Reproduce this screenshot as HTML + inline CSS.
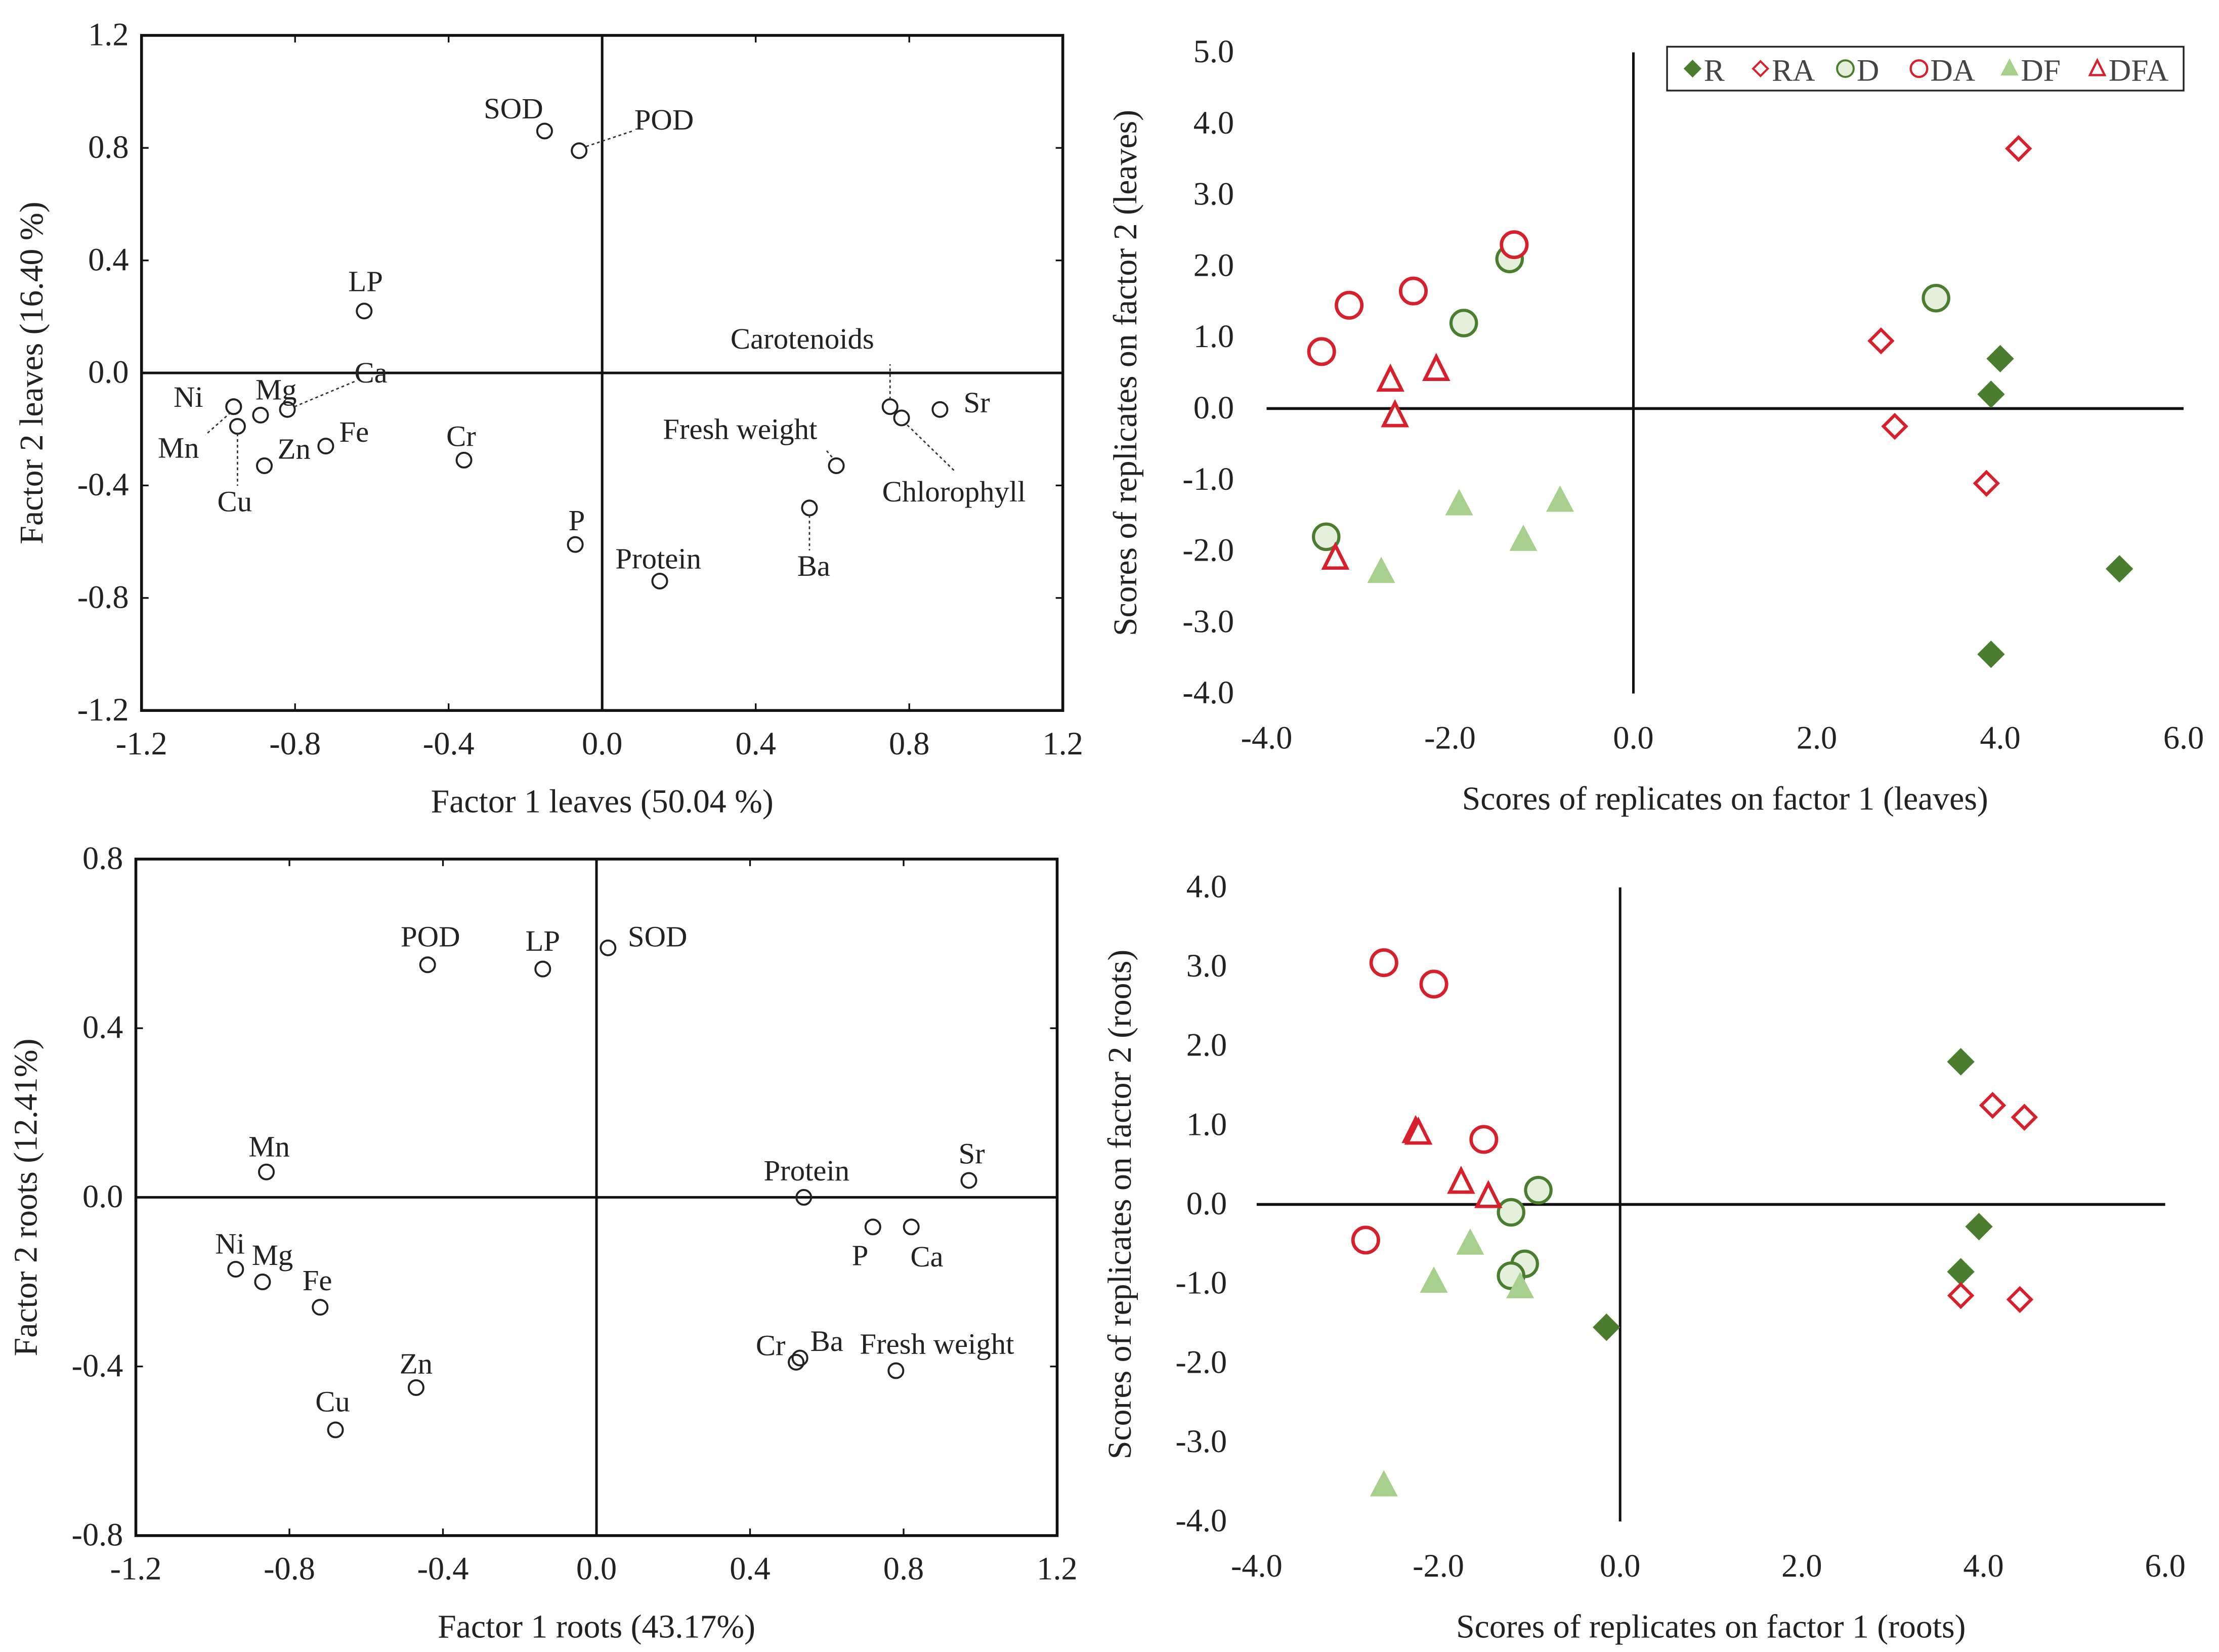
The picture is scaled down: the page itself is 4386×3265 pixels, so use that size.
<!DOCTYPE html>
<html><head><meta charset="utf-8"><style>
html,body{margin:0;padding:0;background:#fff;}
svg{display:block;}
svg text{font-family:"Liberation Serif","Times New Roman",serif;}
</style></head><body>
<svg id="fig" width="4386" height="3265" viewBox="0 0 1568 1167.25" xmlns="http://www.w3.org/2000/svg" font-family="Liberation Serif, serif">
<rect x="0" y="0" width="1568" height="1168" fill="#fff"/>
</svg>
<script>
// ---- Data: top-left loadings (leaves)
const tlNames = ["SOD","POD","LP","Ca","Ni","Mn","Mg","Cu","Zn","Fe","Cr","P","Protein","Ba","Fresh weight","Carotenoids","Chlorophyll","Sr"];
const tlX = [-0.15,-0.06,-0.62,-0.82,-0.96,-0.96,-0.89,-0.95,-0.88,-0.72,-0.36,-0.07,0.15,0.54,0.61,0.75,0.78,0.88];
const tlY = [0.86,0.79,0.22,-0.13,-0.12,-0.12,-0.15,-0.19,-0.33,-0.26,-0.31,-0.61,-0.74,-0.48,-0.33,-0.12,-0.16,-0.13];
const tlTicks = ["-1.2","-0.8","-0.4","0.0","0.4","0.8","1.2"];
// ---- Data: bottom-left loadings (roots)
const blNames = ["POD","LP","SOD","Mn","Ni","Mg","Fe","Zn","Cu","Protein","Sr","P","Ca","Cr","Ba","Fresh weight"];
const blX = [-0.44,-0.14,0.03,-0.86,-0.94,-0.87,-0.72,-0.47,-0.68,0.54,0.97,0.72,0.82,0.52,0.53,0.78];
const blY = [0.55,0.54,0.59,0.06,-0.17,-0.20,-0.26,-0.45,-0.55,0.00,0.04,-0.07,-0.07,-0.39,-0.38,-0.41];
const blYTicks = ["-0.8","-0.4","0.0","0.4","0.8"];
// ---- Data: top-right scores (leaves)
const groups = ["R","RA","D","DA","DF","DFA"];
const trRx=[4.0,3.9,5.3,3.9], trRy=[0.7,0.2,-2.25,-3.45];
const trRAx=[4.2,2.7,2.85,3.85], trRAy=[3.65,0.95,-0.25,-1.05];
const trDx=[-1.35,-1.85,3.3,-3.35], trDy=[2.1,1.2,1.55,-1.8];
const trDAx=[-3.4,-3.1,-2.4,-1.3], trDAy=[0.8,1.45,1.65,2.3];
const trDFx=[-1.9,-0.8,-1.2,-2.75], trDFy=[-1.35,-1.3,-1.85,-2.3];
const trDFAx=[-2.65,-2.15,-2.6,-3.25], trDFAy=[0.4,0.55,-0.1,-2.1];
const trYTicks=["5.0","4.0","3.0","2.0","1.0","0.0","-1.0","-2.0","-3.0","-4.0"];
const xScoreTicks=["-4.0","-2.0","0.0","2.0","4.0","6.0"];
// ---- Data: bottom-right scores (roots)
const brRx=[3.75,3.95,3.75,-0.15], brRy=[1.8,-0.28,-0.85,-1.55];
const brRAx=[4.1,4.45,3.75,4.4], brRAy=[1.25,1.1,-1.15,-1.2];
const brDx=[-1.2,-0.9,-1.05,-1.2], brDy=[-0.1,0.18,-0.75,-0.9];
const brDAx=[-2.6,-2.05,-1.5,-2.8], brDAy=[3.05,2.78,0.82,-0.45];
const brDFx=[-1.65,-2.05,-1.1,-2.6], brDFy=[-0.5,-0.98,-1.05,-3.55];
const brDFAx=[-2.25,-2.22,-1.75,-1.45], brDFAy=[0.92,0.9,0.28,0.1];
const brYTicks=["4.0","3.0","2.0","1.0","0.0","-1.0","-2.0","-3.0","-4.0"];

const svg=document.getElementById('fig');
const NS="http://www.w3.org/2000/svg";
function mk(tag,attrs,parent){const e=document.createElementNS(NS,tag);for(const k in attrs)e.setAttribute(k,attrs[k]);(parent||svg).appendChild(e);return e;}
function txt(s,x,y,size,anchor,parent,rot){const t=mk('text',{x:x,y:y,'font-size':size,'text-anchor':anchor||'middle',fill:'#222','font-family':'Liberation Serif, serif'},parent);if(rot)t.setAttribute('transform',`rotate(-90 ${x} ${y})`);t.textContent=s;return t;}
const RED="#d7202c",DG="#4b7d2f",LG="#a8d08d",DFILL="#e4f0db";

// ---------- Loadings panels ----------
function loadPanel(name,box,xr,yr,xt,yt,names,xs,ys,labels,xtitle,ytitle,ytx){
  const g=mk('g',{});
  
  
  const sx=v=>box.l+(v-xr[0])/(xr[1]-xr[0])*(box.r-box.l);
  const sy=v=>box.b-(v-yr[0])/(yr[1]-yr[0])*(box.b-box.t);
  const fr=mk('rect',{x:box.l,y:box.t,width:box.r-box.l,height:box.b-box.t,fill:'none',stroke:'#111','stroke-width':2},g);
  
  const zx=mk('line',{x1:sx(0),x2:sx(0),y1:box.t,y2:box.b,stroke:'#111','stroke-width':1.8},g);
  
  const zy=mk('line',{x1:box.l,x2:box.r,y1:sy(0),y2:sy(0),stroke:'#111','stroke-width':1.8},g);
  
  xt.forEach(s=>{const v=parseFloat(s);const x=sx(v);
    mk('line',{x1:x,x2:x,y1:box.b,y2:box.b-5,stroke:'#111','stroke-width':1.2},g);
    mk('line',{x1:x,x2:x,y1:box.t,y2:box.t+5,stroke:'#111','stroke-width':1.2},g);
    const t=txt(s,x,box.b+31,23,'middle',g);});
  yt.forEach(s=>{const v=parseFloat(s);const y=sy(v);
    mk('line',{x1:box.l,x2:box.l+5,y1:y,y2:y,stroke:'#111','stroke-width':1.2},g);
    mk('line',{x1:box.r,x2:box.r-5,y1:y,y2:y,stroke:'#111','stroke-width':1.2},g);
    const t=txt(s,box.l-9,y+7,23,'end',g);});
  names.forEach((n,i)=>{const px=sx(xs[i]),py=sy(ys[i]);
    const c=mk('circle',{cx:px,cy:py,r:5.2,fill:'none',stroke:'#222','stroke-width':1.4},g);
    
    const L=labels[i];
    if(L.line){const ln=mk('line',{x1:px+L.line[0],y1:py+L.line[1],x2:px+L.line[2],y2:py+L.line[3],stroke:'#333','stroke-width':1,'stroke-dasharray':'2,2'},g);
      }
    const t=txt(n,px+L.dx,py+L.dy,21,'middle',g);
  });
  const xtl=txt(xtitle,(box.l+box.r)/2,box.b+72,23.5,'middle',g);
  const ytl=txt(ytitle,ytx,(box.t+box.b)/2,23.5,'middle',g,true);
}
const tlLab=[
 {dx:-22,dy:-9},{dx:60,dy:-15,line:[5,-3,38,-14]},{dx:1,dy:-14},{dx:59,dy:-19,line:[5,-2,48,-20]},
 {dx:-32,dy:0},{dx:-39,dy:36,line:[-2,4,-20,20]},{dx:11,dy:-11},{dx:-2,dy:60,line:[0,5,0,42]},
 {dx:21,dy:-5},{dx:20,dy:-3},{dx:-2,dy:-10},{dx:1,dy:-10},{dx:-1,dy:-9},{dx:3,dy:48,line:[0,5,0,30]},
 {dx:-68,dy:-19,line:[-3,-6,-8,-12]},{dx:-62,dy:-41,line:[0,-5,0,-30]},{dx:37,dy:59,line:[4,5,38,38]},{dx:26,dy:2}
];
loadPanel('loadings-leaves-panel',{l:100,r:751,t:25,b:502},[-1.2,1.2],[-1.2,1.2],tlTicks,tlTicks,tlNames,tlX,tlY,tlLab,"Factor 1 leaves (50.04 %)","Factor 2 leaves (16.40 %)",30);
const blLab=[
 {dx:2,dy:-13},{dx:0,dy:-13},{dx:35,dy:-1},{dx:2,dy:-11},{dx:-4,dy:-11},{dx:7,dy:-12},{dx:-2,dy:-12},{dx:0,dy:-10},{dx:-2,dy:-13},
 {dx:2,dy:-12},{dx:2,dy:-12},{dx:-9,dy:27},{dx:11,dy:28},{dx:-18,dy:-5},{dx:19,dy:-5},{dx:29,dy:-12}
];
loadPanel('loadings-roots-panel',{l:96,r:747,t:607,b:1085},[-1.2,1.2],[-0.8,0.8],tlTicks,blYTicks,blNames,blX,blY,blLab,"Factor 1 roots (43.17%)","Factor 2 roots (12.41%)",26);

// ---------- Score panels ----------
function marker(g,type,x,y){
  let e;
  if(type==="R"){e=mk('polygon',{points:`${x},${y-9} ${x+9},${y} ${x},${y+9} ${x-9},${y}`,fill:DG,stroke:DG,'stroke-width':1},g);}
  else if(type==="RA"){e=mk('polygon',{points:`${x},${y-8} ${x+8},${y} ${x},${y+8} ${x-8},${y}`,fill:'#fff',stroke:RED,'stroke-width':2.2},g);}
  else if(type==="D"){e=mk('circle',{cx:x,cy:y,r:9,fill:DFILL,stroke:DG,'stroke-width':2.2},g);}
  else if(type==="DA"){e=mk('circle',{cx:x,cy:y,r:9,fill:'#fff',stroke:RED,'stroke-width':2.4},g);}
  else if(type==="DF"){e=mk('polygon',{points:`${x},${y-10} ${x+9},${y+7} ${x-9},${y+7}`,fill:LG,stroke:LG,'stroke-width':1},g);}
  else {e=mk('polygon',{points:`${x},${y-9} ${x+8},${y+7} ${x-8},${y+7}`,fill:'#fff',stroke:RED,'stroke-width':2.4},g);}
  return e;
}
function scorePanel(name,ax,yt,series,xtitle,ytitle,ytx,legend){
  const g=mk('g',{});
  
  
  const sx=v=>ax.l+(v+4)/10*(ax.r-ax.l);
  const yMax=parseFloat(yt[0]),yMin=parseFloat(yt[yt.length-1]);
  const sy=v=>ax.t+(yMax-v)/(yMax-yMin)*(ax.b-ax.t);
  const v=mk('line',{x1:sx(0),x2:sx(0),y1:ax.t,y2:ax.b,stroke:'#111','stroke-width':1.8},g);
  
  const h=mk('line',{x1:ax.l,x2:ax.r,y1:sy(0),y2:sy(0),stroke:'#111','stroke-width':2},g);
  
  xScoreTicks.forEach(s=>{const t=txt(s,sx(parseFloat(s)),ax.b+39,23,'middle',g);});
  yt.forEach(s=>{const t=txt(s,ax.yl,sy(parseFloat(s))+7,23,'end',g);});
  series.forEach(sr=>{sr.x.forEach((xv,i)=>{const m=marker(g,sr.type,sx(xv),sy(sr.y[i]));
    });});
  const xtl=txt(xtitle,(ax.l+ax.r)/2,ax.b+82,23.5,'middle',g);
  const ytl=txt(ytitle,ytx,(ax.t+ax.b)/2,23.5,'middle',g,true);
  if(legend){
    const lg=mk('g',{},g);
    
    mk('rect',{x:1178,y:33,width:365,height:31,fill:'#fff',stroke:'#222','stroke-width':1.2},lg);
    const lx=[1196,1244,1304,1356,1420,1482];
    groups.forEach((gname,i)=>{
      const m=marker(lg,gname,lx[i],48.5);
      m.setAttribute('transform',`translate(${lx[i]*0.35},${48.5*0.35}) scale(0.65)`);
      const t=txt(gname,lx[i]+8,57,22,'start',lg);t.setAttribute('fill','#444');
      
    });
  }
}
scorePanel('scores-leaves-panel',{l:895,r:1543,t:37,b:490,yl:872},trYTicks,[
 {type:"R",x:trRx,y:trRy},{type:"RA",x:trRAx,y:trRAy},{type:"D",x:trDx,y:trDy},
 {type:"DA",x:trDAx,y:trDAy},{type:"DF",x:trDFx,y:trDFy},{type:"DFA",x:trDFAx,y:trDFAy}],
 "Scores of replicates on factor 1 (leaves)","Scores of replicates on factor 2 (leaves)",803,true);
scorePanel('scores-roots-panel',{l:888,r:1530,t:627,b:1075,yl:867},brYTicks,[
 {type:"R",x:brRx,y:brRy},{type:"RA",x:brRAx,y:brRAy},{type:"D",x:brDx,y:brDy},
 {type:"DA",x:brDAx,y:brDAy},{type:"DF",x:brDFx,y:brDFy},{type:"DFA",x:brDFAx,y:brDFAy}],
 "Scores of replicates on factor 1 (roots)","Scores of replicates on factor 2 (roots)",799,false);
</script>
</body></html>
